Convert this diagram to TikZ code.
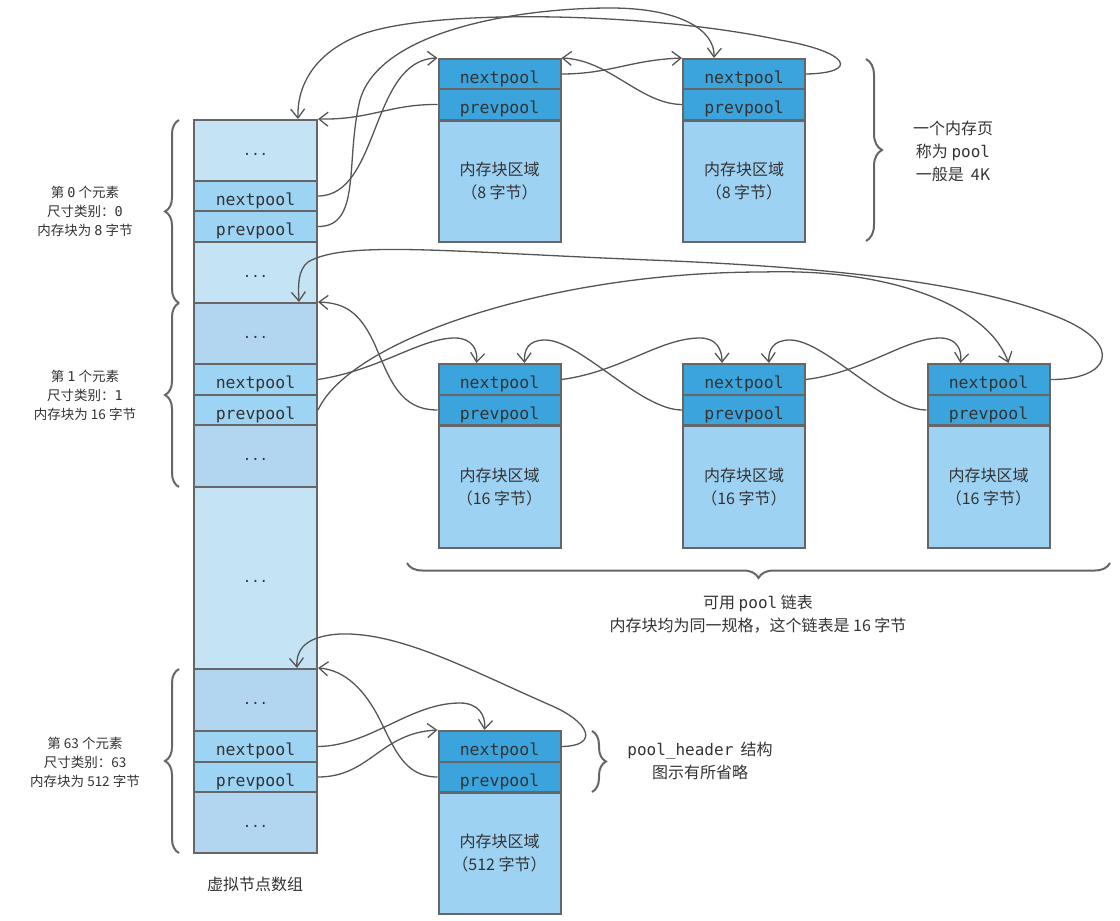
\documentclass[tikz,border=0pt]{standalone}
\usepackage{fontspec}
\setmainfont{Noto Sans CJK SC}
\newfontfamily\mono{DejaVu Sans Mono}
\usetikzlibrary{arrows.meta,decorations.pathreplacing,calc}
\definecolor{lightc}{HTML}{C4E4F6}
\definecolor{darkc}{HTML}{B2D6F0}
\definecolor{slotc}{HTML}{9DD3F3}
\definecolor{headc}{HTML}{3CA4DC}
\definecolor{bodyc}{HTML}{9ED2F3}
\definecolor{strokec}{HTML}{666666}
\definecolor{connc}{HTML}{555555}
\definecolor{textc}{HTML}{333333}
\begin{document}
\begin{tikzpicture}[x=1pt,y=-1pt,
  cell/.style={draw=strokec, line width=2pt, minimum width=123pt, inner sep=0pt, text=textc, font=\mono\fontsize{16.5}{19}\selectfont},
  slot/.style={cell, text height=18pt, text depth=0pt},
  pcell/.style={cell, minimum width=122pt},
  pslot/.style={slot, minimum width=122pt},
  dots/.style={cell, text height=9pt, text depth=0pt, font=\mono\fontsize{14}{16}\selectfont},
  conn/.style={draw=connc, line width=1.3pt, line join=round, -{Straight Barb[length=9pt,width=14pt,line width=1.3pt]}},
  brc/.style={draw=strokec, line width=2pt, decorate},
  lbl/.style={align=center, text=textc, font=\fontsize{13.5}{19}\selectfont},
  note/.style={align=center, text=textc, font=\fontsize{16}{23}\selectfont},
  bodytxt/.style={align=center, text=textc, font=\fontsize{16}{23}\selectfont}
]
\useasboundingbox (0,0) rectangle (1120,921);
% ---------- virtual node array ----------
\node[dots, fill=lightc, minimum height=61pt] (c0a) at (255.5,150.5) {...};
\node[slot, fill=slotc, minimum height=30pt] (c0n) at (255.5,196) {nextpool};
\node[slot, fill=slotc, minimum height=31pt] (c0p) at (255.5,226.5) {prevpool};
\node[dots, fill=lightc, minimum height=61pt] (c0b) at (255.5,272.5) {...};
\node[dots, fill=darkc, minimum height=61pt] (c1a) at (255.5,333.5) {...};
\node[slot, fill=slotc, minimum height=31pt] (c1n) at (255.5,379.5) {nextpool};
\node[slot, fill=slotc, minimum height=30pt] (c1p) at (255.5,410) {prevpool};
\node[dots, fill=darkc, minimum height=62pt] (c1b) at (255.5,456) {...};
\node[dots, fill=lightc, minimum height=182pt] (cbig) at (255.5,578) {...};
\node[dots, fill=darkc, minimum height=62pt] (c63a) at (255.5,700) {...};
\node[slot, fill=slotc, minimum height=31pt] (c63n) at (255.5,746.5) {nextpool};
\node[slot, fill=slotc, minimum height=30pt] (c63p) at (255.5,777) {prevpool};
\node[dots, fill=darkc, minimum height=61pt] (c63b) at (255.5,822.5) {...};
\node[note] (arrlbl) at (255,884) {虚拟节点数组};
% ---------- pools, size class 0 ----------
\node[pslot, fill=headc, minimum height=30pt] (pAn) at (499.5,74) {nextpool};
\node[pslot, fill=headc, minimum height=31pt] (pAp) at (499.5,104.5) {prevpool};
\node[pcell, fill=bodyc, minimum height=121pt, bodytxt] (pAb) at (499.5,181.5) {内存块区域\\（8 字节）};
\node[pslot, fill=headc, minimum height=30pt] (pBn) at (744,74) {nextpool};
\node[pslot, fill=headc, minimum height=31pt] (pBp) at (744,104.5) {prevpool};
\node[pcell, fill=bodyc, minimum height=121pt, bodytxt] (pBb) at (744,181.5) {内存块区域\\（8 字节）};
% ---------- pools, size class 1 ----------
\node[pslot, fill=headc, minimum height=31pt] (pCn) at (499.5,379.5) {nextpool};
\node[pslot, fill=headc, minimum height=30pt] (pCp) at (499.5,410) {prevpool};
\node[pcell, fill=bodyc, minimum height=122pt, bodytxt] (pCb) at (499.5,487) {内存块区域\\（16 字节）};
\node[pslot, fill=headc, minimum height=31pt] (pDn) at (744,379.5) {nextpool};
\node[pslot, fill=headc, minimum height=30pt] (pDp) at (744,410) {prevpool};
\node[pcell, fill=bodyc, minimum height=122pt, bodytxt] (pDb) at (744,487) {内存块区域\\（16 字节）};
\node[pslot, fill=headc, minimum height=31pt] (pEn) at (988.5,379.5) {nextpool};
\node[pslot, fill=headc, minimum height=30pt] (pEp) at (988.5,410) {prevpool};
\node[pcell, fill=bodyc, minimum height=122pt, bodytxt] (pEb) at (988.5,487) {内存块区域\\（16 字节）};
% ---------- pool, size class 63 ----------
\node[pslot, fill=headc, minimum height=31pt] (pFn) at (499.5,746.5) {nextpool};
\node[pslot, fill=headc, minimum height=30pt] (pFp) at (499.5,777) {prevpool};
\node[pcell, fill=bodyc, minimum height=121pt, bodytxt] (pFb) at (499.5,853.5) {内存块区域\\（512 字节）};
% ---------- braces ----------
\draw[brc, decoration={brace, amplitude=14pt}] (179,303) -- (179,120);
\draw[brc, decoration={brace, amplitude=14pt}] (179,487) -- (179,303);
\draw[brc, decoration={brace, amplitude=14pt}] (179,853) -- (179,669);
\draw[brc, decoration={brace, amplitude=16pt}] (866,59) -- (866,241);
\draw[brc, decoration={brace, amplitude=15pt}] (1110,563) -- (407,563);
\draw[brc, decoration={brace, amplitude=14pt}] (592,731) -- (592,792);
% ---------- labels ----------
\node[lbl] (l0) at (85,211) {第 {\mono 0} 个元素\\尺寸类别：{\mono 0}\\内存块为 {\mono 8} 字节};
\node[lbl] (l1) at (85,395) {第 {\mono 1} 个元素\\尺寸类别：{\mono 1}\\内存块为 16 字节};
\node[lbl] (l63) at (85,762) {第 63 个元素\\尺寸类别：63\\内存块为 512 字节};
\node[note] (poolnote) at (953,151) {一个内存页\\称为 {\mono pool}\\一般是 \ 4K};
\node[note] (listnote) at (758,614) {可用 {\mono pool} 链表\\内存块均为同一规格，这个链表是 16 字节};
\node[note] (hdrnote) at (700,761) {{\mono pool\_header}\ \ 结构\\图示有所省略};
% ---------- connectors: size class 0 ----------
\draw[conn] (c0n.east) .. controls (380,196) and (370,60) .. (pAn.north west);
\draw[conn] (c0p.east) .. controls (362,227) and (345,160) .. (360,100) .. controls (380,30) and (520,8) .. (610,8) .. controls (680,8) and (715,30) .. ([xshift=32pt]pBn.north west);
\draw[conn] (pAp.west) .. controls (390,104) and (370,120) .. (c0a.north east);
\draw[conn] (pAn.east) .. controls (610,74) and (630,60) .. (pBn.north west);
\draw[conn] (pBp.west) .. controls (640,104) and (610,60) .. (pAn.north east);
\draw[conn] (pBn.east) .. controls (860,73) and (850,52) .. (780,40) .. controls (650,12) and (430,8) .. (360,35) .. controls (310,55) and (297,90) .. ([xshift=-20pt]c0a.north east);
% ---------- connectors: size class 1 ----------
\draw[conn] (c1n.east) .. controls (380,370) and (420,338) .. (455,338) .. controls (472,338) and (478,350) .. ([xshift=39pt]pCn.north west);
\draw[conn] (c1p.east) .. controls (350,340) and (550,272) .. (763,272) .. controls (900,268) and (990,310) .. ([xshift=82pt]pEn.north west);
\draw[conn] (pCp.west) .. controls (400,410) and (390,380) .. (375,345) .. controls (360,312) and (345,303) .. (c1a.north east);
\draw[conn] (pCn.east) .. controls (620,372) and (660,338) .. (700,338) .. controls (717,338) and (722,350) .. ([xshift=40pt]pDn.north west);
\draw[conn] (pDp.west) .. controls (640,410) and (580,340) .. (545,340) .. controls (528,340) and (524,350) .. ([xshift=-37pt]pCn.north east);
\draw[conn] (pDn.east) .. controls (865,372) and (905,338) .. (940,338) .. controls (957,338) and (962,350) .. ([xshift=34pt]pEn.north west);
\draw[conn] (pEp.west) .. controls (885,410) and (825,340) .. (790,340) .. controls (773,340) and (768,350) .. ([xshift=-37pt]pDn.north east);
\draw[conn] (pEn.east) .. controls (1110,380) and (1125,345) .. (1060,318) .. controls (980,285) and (850,268) .. (650,260) .. controls (450,252) and (345,240) .. (308,262) .. controls (298,270) and (298,285) .. ([xshift=-19pt]c1a.north east);
% ---------- connectors: size class 63 ----------
\draw[conn] (c63n.east) .. controls (370,746) and (410,703) .. (460,703) .. controls (478,703) and (486,715) .. ([xshift=47pt]pFn.north west);
\draw[conn] (c63p.east) .. controls (370,777) and (380,733) .. (pFn.north west);
\draw[conn] (pFp.west) .. controls (405,777) and (395,750) .. (380,720) .. controls (365,690) and (345,670) .. (c63a.north east);
\draw[conn] (pFn.east) .. controls (600,746) and (590,722) .. (550,705) .. controls (470,670) and (400,632) .. (340,634) .. controls (305,636) and (296,650) .. ([xshift=-21pt]c63a.north east);
\end{tikzpicture}
\end{document}
